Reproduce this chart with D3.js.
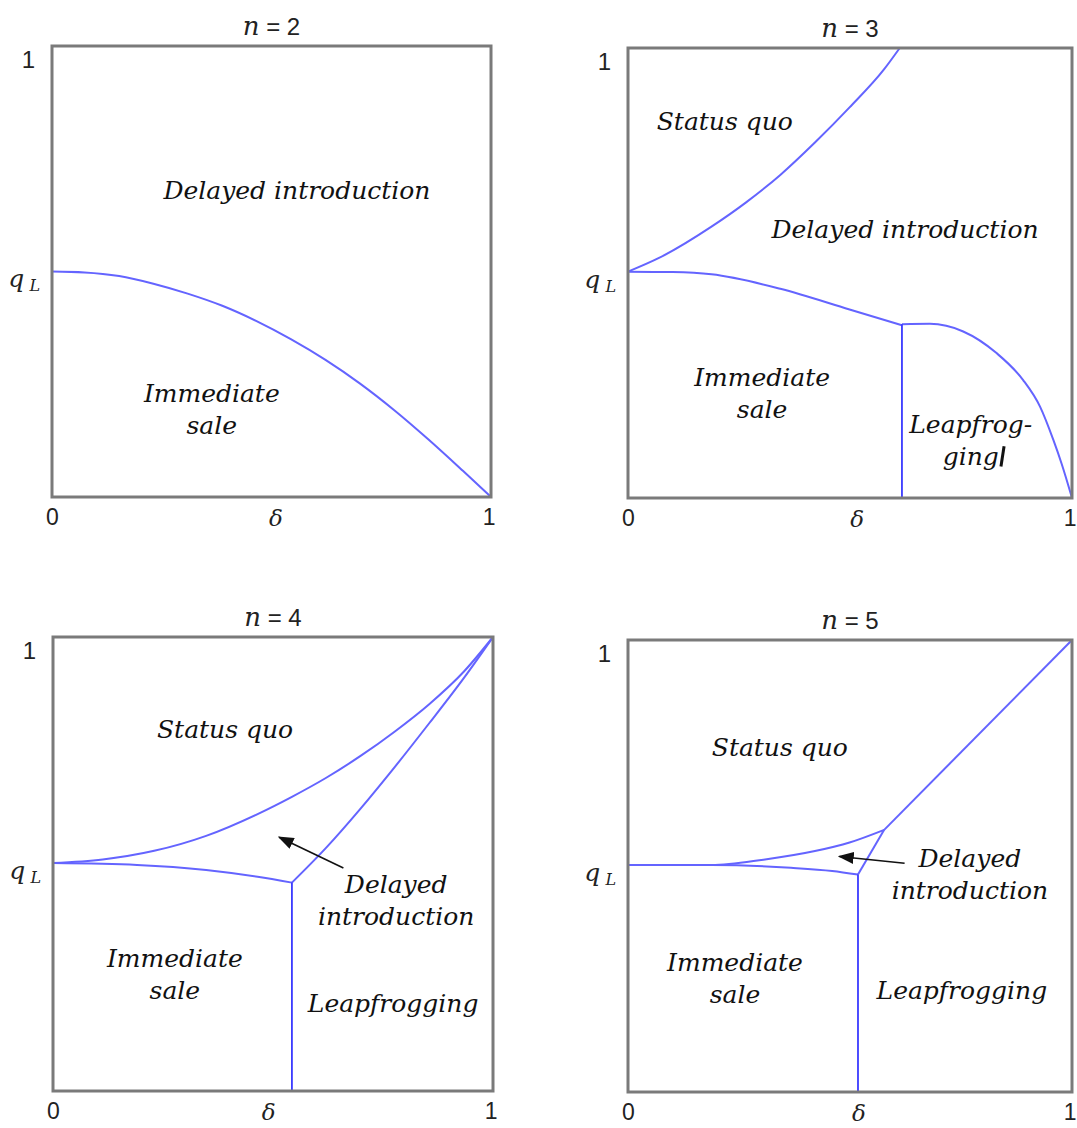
<!DOCTYPE html>
<html>
<head>
<meta charset="utf-8">
<script src="https://cdn.jsdelivr.net/npm/d3@7"></script>
<style>
  html, body { margin: 0; padding: 0; background: #fff; }
  svg { display: block; }
  .region { font-family: "DejaVu Serif", serif; font-style: italic; font-size: 25px; fill: #111; }
  .num { font-family: "Liberation Sans", Arial, sans-serif; font-size: 24px; fill: #222; }
  .sym { font-family: "DejaVu Serif", serif; font-style: italic; fill: #222; }
</style>
</head>
<body>
<svg id="chart" width="1077" height="1128"></svg>
<script>
// Threshold q_L on the vertical axis
const qL = 0.5;

// Number of periods shown in each panel
const panelN = [2, 3, 4, 5];

// Axis tick labels
const xTickLabels = ["0", "1"];
const yTickLabels = ["1"];

// ---- n = 2 : single boundary between immediate sale and delayed introduction
const n2Boundary = [
  [0, 0.5], [0.074, 0.498], [0.153, 0.49], [0.231, 0.473], [0.309, 0.451],
  [0.388, 0.424], [0.466, 0.39], [0.544, 0.35], [0.623, 0.304], [0.701, 0.252],
  [0.779, 0.193], [0.857, 0.128], [0.936, 0.058], [1, 0]
];

// ---- n = 3
const n3StatusQuo = [
  [0, 0.503], [0.071, 0.534], [0.188, 0.603], [0.266, 0.657], [0.343, 0.718],
  [0.421, 0.79], [0.499, 0.868], [0.577, 0.953], [0.612, 1]
];
const n3Immediate = [
  [0, 0.503], [0.1, 0.502], [0.188, 0.497], [0.343, 0.465], [0.499, 0.419], [0.617, 0.384]
];
const n3Leapfrog = [
  [0.617, 0.386], [0.68, 0.387], [0.755, 0.37], [0.83, 0.322], [0.89, 0.262],
  [0.928, 0.203], [0.958, 0.129], [0.977, 0.075], [1, 0]
];
const n3Split = [[0.617, 0], [0.617, 0.386]];

// ---- n = 4
const n4StatusQuo = [
  [0, 0.502], [0.113, 0.51], [0.23, 0.529], [0.348, 0.562], [0.465, 0.61],
  [0.543, 0.648], [0.621, 0.69], [0.699, 0.738], [0.777, 0.792], [0.855, 0.852],
  [0.934, 0.924], [1, 1]
];
const n4Immediate = [
  [0, 0.502], [0.191, 0.498], [0.348, 0.487], [0.465, 0.472], [0.543, 0.459]
];
const n4Leapfrog = [
  [0.543, 0.459], [0.621, 0.536], [0.699, 0.622], [0.777, 0.714],
  [0.855, 0.81], [0.934, 0.91], [1, 1]
];
const n4Split = [[0.543, 0], [0.543, 0.459]];

// ---- n = 5
const n5StatusQuo = [
  [0, 0.502], [0.188, 0.502], [0.305, 0.514], [0.421, 0.533], [0.499, 0.552], [0.577, 0.58]
];
const n5Immediate = [
  [0, 0.502], [0.188, 0.502], [0.367, 0.496], [0.46, 0.489], [0.518, 0.481]
];
const n5Leapfrog = [[0.518, 0.481], [0.577, 0.58]];
const n5Upper = [[0.577, 0.58], [1, 1]];
const n5Split = [[0.518, 0], [0.518, 0.481]];

// Region labels per panel: text lines, centre of the first line in (delta, q)
const n2Labels = [
  { lines: ["Delayed introduction"], at: [0.558, 0.681] },
  { lines: ["Immediate", "sale"], at: [0.364, 0.231] }
];
const n3Labels = [
  { lines: ["Status quo"], at: [0.218, 0.838] },
  { lines: ["Delayed introduction"], at: [0.624, 0.598] },
  { lines: ["Immediate", "sale"], at: [0.302, 0.269] },
  { lines: ["Leapfrog-", "ging"], at: [0.772, 0.164] }
];
const n4Labels = [
  { lines: ["Status quo"], at: [0.391, 0.797] },
  { lines: ["Delayed", "introduction"], at: [0.78, 0.456] },
  { lines: ["Immediate", "sale"], at: [0.277, 0.293] },
  { lines: ["Leapfrogging"], at: [0.773, 0.194] }
];
const n5Labels = [
  { lines: ["Status quo"], at: [0.342, 0.763] },
  { lines: ["Delayed", "introduction"], at: [0.77, 0.518] },
  { lines: ["Immediate", "sale"], at: [0.241, 0.288] },
  { lines: ["Leapfrogging"], at: [0.752, 0.226] }
];

// Arrows pointing into the small delayed-introduction region: [from, to]
const n4Arrow = [[0.66, 0.491], [0.514, 0.559]];
const n5Arrow = [[0.623, 0.506], [0.476, 0.521]];

// Stray caret mark after "ging" in the n = 3 panel
const n3Caret = [[0.847, 0.115], [0.84, 0.07]];

// ---------------------------------------------------------------
const panels = [
  { n: panelN[0], box: { x0: 52, x1: 491, y0: 46, y1: 497 },
    curves: [n2Boundary], splits: [], labels: n2Labels, arrow: null, deltaAt: 0.51 },
  { n: panelN[1], box: { x0: 628, x1: 1072, y0: 48, y1: 498 },
    curves: [n3StatusQuo, n3Immediate, n3Leapfrog], splits: [n3Split], labels: n3Labels,
    arrow: null, caret: n3Caret, deltaAt: 0.516 },
  { n: panelN[2], box: { x0: 53, x1: 493, y0: 637, y1: 1091 },
    curves: [n4StatusQuo, n4Immediate, n4Leapfrog], splits: [n4Split], labels: n4Labels,
    arrow: n4Arrow, deltaAt: 0.49 },
  { n: panelN[3], box: { x0: 628, x1: 1072, y0: 640, y1: 1092 },
    curves: [n5StatusQuo, n5Immediate, n5Leapfrog, n5Upper], splits: [n5Split], labels: n5Labels,
    arrow: n5Arrow, deltaAt: 0.52 }
];

const svg = d3.select("#chart");
svg.append("rect").attr("width", 1077).attr("height", 1128).attr("fill", "#fff");

svg.append("defs").append("marker")
  .attr("id", "head")
  .attr("viewBox", "0 0 10 10")
  .attr("refX", 9).attr("refY", 5)
  .attr("markerWidth", 16).attr("markerHeight", 12)
  .attr("markerUnits", "userSpaceOnUse")
  .attr("preserveAspectRatio", "none")
  .attr("orient", "auto")
  .append("path").attr("d", "M0,0 L10,5 L0,10 Z").attr("fill", "#111");

const curveColor = "#6464ff";
const splitColor = "#3a3aff";

panels.forEach(p => {
  const x = d3.scaleLinear().domain([0, 1]).range([p.box.x0, p.box.x1]);
  const y = d3.scaleLinear().domain([0, 1]).range([p.box.y1, p.box.y0]);
  const g = svg.append("g");

  const smooth = d3.line().x(d => x(d[0])).y(d => y(d[1])).curve(d3.curveMonotoneX);
  const straight = d3.line().x(d => x(d[0])).y(d => y(d[1]));

  // boundary curves
  g.selectAll("path.curve").data(p.curves).join("path")
    .attr("class", "curve")
    .attr("d", d => (d.length > 2 ? smooth(d) : straight(d)))
    .attr("fill", "none").attr("stroke", curveColor).attr("stroke-width", 2)
    .attr("stroke-linejoin", "round");

  g.selectAll("path.split").data(p.splits).join("path")
    .attr("class", "split")
    .attr("d", straight)
    .attr("fill", "none").attr("stroke", splitColor).attr("stroke-width", 1.8);

  // frame
  g.append("rect")
    .attr("x", x(0)).attr("y", y(1))
    .attr("width", x(1) - x(0)).attr("height", y(0) - y(1))
    .attr("fill", "none").attr("stroke", "#7a7a7a").attr("stroke-width", 3);

  // region labels
  p.labels.forEach(l => {
    const t = g.append("text").attr("class", "region")
      .attr("text-anchor", "middle")
      .attr("x", x(l.at[0])).attr("y", y(l.at[1]))
      .attr("dominant-baseline", "central");
    l.lines.forEach((line, i) => {
      t.append("tspan")
        .attr("x", x(l.at[0]))
        .attr("dy", i === 0 ? "0px" : "32px")
        .text(line);
    });
  });

  if (p.arrow) {
    g.append("path").attr("d", straight(p.arrow))
      .attr("stroke", "#111").attr("stroke-width", 1.6).attr("fill", "none")
      .attr("marker-end", "url(#head)");
  }
  if (p.caret) {
    g.append("path").attr("d", straight(p.caret))
      .attr("stroke", "#111").attr("stroke-width", 3);
  }

  // bottom axis: 0 and 1 at the ends
  const xAxis = d3.axisBottom(x).tickValues([0, 1]).tickSize(0)
    .tickFormat((d, i) => xTickLabels[i]);
  const xa = g.append("g").attr("transform", `translate(0,${y(0) + 9})`).call(xAxis);
  xa.select(".domain").remove();
  xa.selectAll("text").attr("class", "num").attr("fill", null).style("font-size", "23px");
  xa.selectAll(".tick").filter(d => d === 1).select("text")
    .attr("text-anchor", "end").attr("x", 4);

  // delta label under the axis
  g.append("text").attr("class", "sym")
    .attr("x", x(p.deltaAt)).attr("y", y(0) + 29)
    .attr("text-anchor", "middle").attr("font-size", 23).text("δ");

  // left axis: 1 at the top
  const yAxis = d3.axisLeft(y).tickValues([1]).tickSize(0)
    .tickFormat((d, i) => yTickLabels[i]);
  const ya = g.append("g").attr("transform", `translate(${x(0) - 14},14)`).call(yAxis);
  ya.select(".domain").remove();
  ya.selectAll("text").attr("class", "num").attr("fill", null);

  // q_L label
  const ql = g.append("text").attr("class", "sym")
    .attr("x", x(0) - 12).attr("y", y(qL) + 15)
    .attr("text-anchor", "end").attr("font-size", 25);
  ql.append("tspan").text("q");
  ql.append("tspan").attr("font-size", 16).attr("dx", 5).attr("dy", 4).text("L");

  // panel title
  const title = g.append("text")
    .attr("x", (x(0) + x(1)) / 2).attr("y", y(1) - 11)
    .attr("text-anchor", "middle");
  title.append("tspan").attr("class", "sym").attr("font-size", 26).text("n");
  title.append("tspan").attr("class", "num").attr("font-size", 26).text(" = " + p.n);
});
</script>
</body>
</html>
